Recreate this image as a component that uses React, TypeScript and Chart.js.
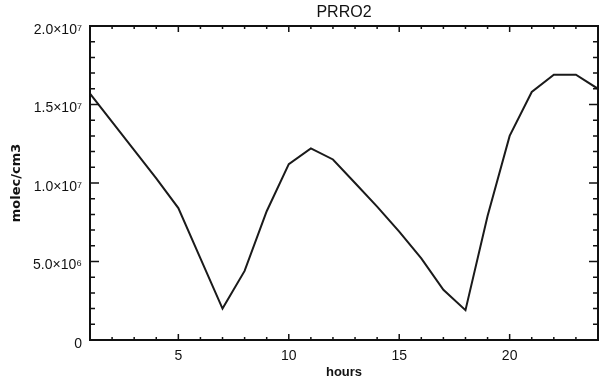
import React, { useEffect, useRef } from "react";
import { Chart, registerables } from "chart.js";

Chart.register(...registerables);

const hours = [1, 2, 3, 4, 5, 6, 7, 8, 9, 10, 11, 12, 13, 14, 15, 16, 17, 18, 19, 20, 21, 22, 23, 24];
const prro2 = [
  1.57e7, 1.39e7, 1.21e7, 1.03e7, 8.4e6, 5.2e6, 2.0e6, 4.4e6, 8.2e6, 1.12e7, 1.22e7, 1.15e7,
  1.0e7, 8.5e6, 6.9e6, 5.2e6, 3.2e6, 1.9e6, 7.9e6, 1.3e7, 1.58e7, 1.69e7, 1.69e7, 1.6e7,
];
const xTickValues = [5, 10, 15, 20];
const yTickValues = [0, 5e6, 1e7, 1.5e7, 2e7];
const yTickLabels = ["0", "5.0×10⁶", "1.0×10⁷", "1.5×10⁷", "2.0×10⁷"];

const FONT = "'Liberation Sans', Arial, Helvetica, sans-serif";
const DV = "'DejaVu Sans', sans-serif";

const boxPlugin = {
  id: "boxTicks",
  afterDatasetsDraw(chart: any) {
    const { ctx, chartArea, scales } = chart;
    const { left, right, top, bottom } = chartArea;
    const xs = scales.x;
    const ys = scales.y;
    ctx.save();
    ctx.strokeStyle = "#111";
    ctx.lineWidth = 1.5;
    for (let h = 1; h <= 24; h++) {
      const px = xs.getPixelForValue(h);
      const len = h % 5 === 0 ? 6 : 3;
      ctx.beginPath();
      ctx.moveTo(px, bottom);
      ctx.lineTo(px, bottom - len);
      ctx.moveTo(px, top);
      ctx.lineTo(px, top + len);
      ctx.stroke();
    }
    for (let v = 0; v <= 2e7; v += 1e6) {
      const py = ys.getPixelForValue(v);
      const len = v % 5e6 === 0 ? 9 : 5;
      ctx.beginPath();
      ctx.moveTo(left, py);
      ctx.lineTo(left + len, py);
      ctx.moveTo(right, py);
      ctx.lineTo(right - len, py);
      ctx.stroke();
    }
    ctx.lineWidth = 2;
    ctx.strokeRect(left, top, right - left, bottom - top);
    ctx.restore();
  },
};

export default function App() {
  const ref = useRef<HTMLCanvasElement | null>(null);
  useEffect(() => {
    document.body.style.margin = "0";
    const canvas = ref.current;
    if (!canvas) return;
    const chart = new Chart(canvas, {
      type: "line",
      data: {
        datasets: [
          {
            label: "PRRO2",
            data: hours.map((h, i) => ({ x: h, y: prro2[i] })),
            borderColor: "#1a1a1a",
            borderWidth: 2,
            pointRadius: 0,
            tension: 0,
            fill: false,
          },
        ],
      },
      options: {
        responsive: false,
        animation: false,
        layout: { padding: { top: 0, right: 2, bottom: 0, left: 0 } },
        plugins: {
          legend: { display: false },
          tooltip: { enabled: false },
          title: {
            display: true,
            fullSize: false,
            text: "PRRO2",
            color: "#111",
            font: { family: FONT, size: 16, weight: "normal" },
            padding: { top: 3, bottom: 3.8 },
          },
        },
        scales: {
          x: {
            type: "linear",
            min: 1,
            max: 24,
            afterBuildTicks: (s: any) => {
              s.ticks = xTickValues.map((v) => ({ value: v }));
            },
            afterFit: (s: any) => {
              s.height = 45;
            },
            grid: { display: false, drawTicks: false },
            border: { display: false },
            ticks: {
              color: "#111",
              font: { family: FONT, size: 14 },
              padding: 8,
              maxRotation: 0,
              autoSkip: false,
              callback: (v: any) => String(v),
            },
            title: {
              display: true,
              text: "hours",
              color: "#111",
              font: { family: FONT, size: 13, weight: "bold" },
              padding: { top: 0, bottom: 5 },
            },
          },
          y: {
            type: "linear",
            min: 0,
            max: 2e7,
            afterBuildTicks: (s: any) => {
              s.ticks = yTickValues.map((v) => ({ value: v }));
            },
            afterFit: (s: any) => {
              s.width = 90;
            },
            grid: { display: false, drawTicks: false },
            border: { display: false },
            ticks: {
              color: "#111",
              font: { family: FONT, size: 14 },
              padding: 8,
              autoSkip: false,
              labelOffset: 4,
              callback: (v: any) => {
                const i = yTickValues.indexOf(Number(v));
                return i >= 0 ? yTickLabels[i] : "";
              },
            },
            title: {
              display: true,
              text: "molec/cm3",
              color: "#111",
              font: { family: DV, size: 13, weight: "bold" },
              padding: { top: 9, bottom: 0 },
            },
          },
        },
      },
      plugins: [boxPlugin],
    });
    return () => chart.destroy();
  }, []);
  return (
    <div style={{ width: 600, height: 385 }}>
      <canvas ref={ref} width={600} height={385} />
    </div>
  );
}
